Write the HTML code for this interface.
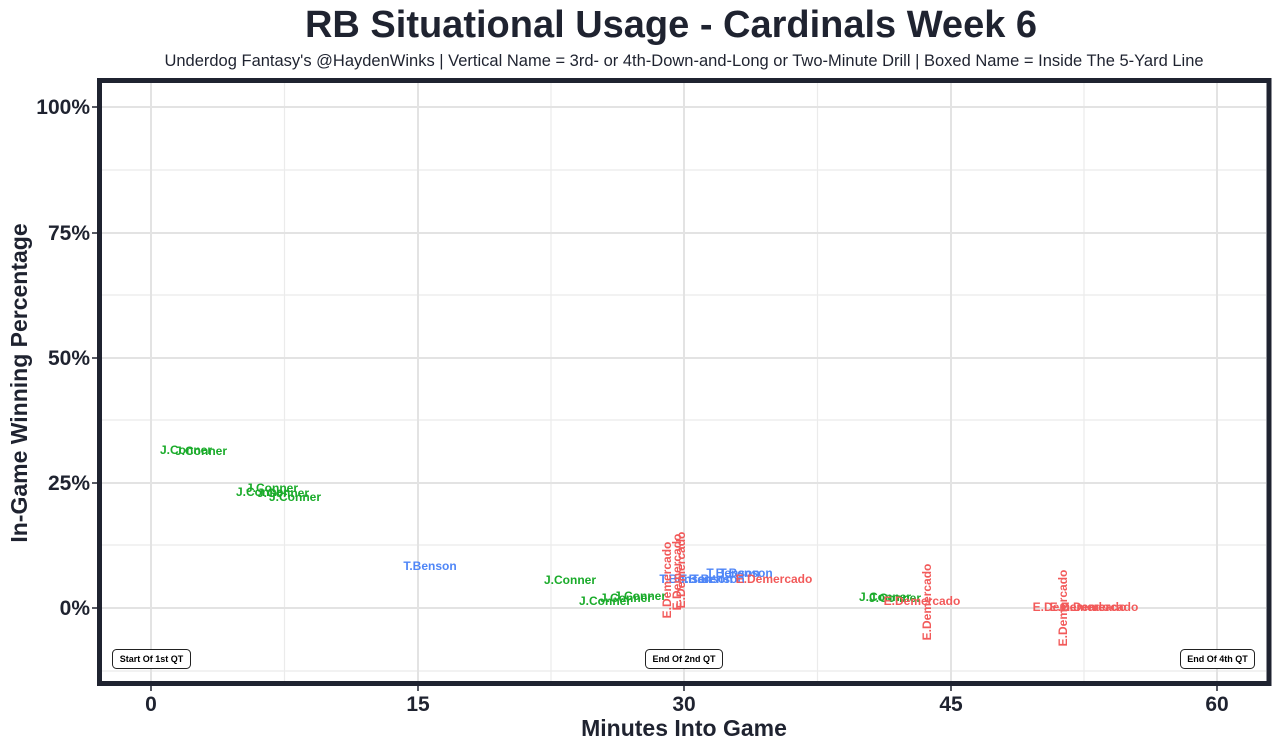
<!DOCTYPE html>
<html><head><meta charset="utf-8"><style>
html,body{margin:0;padding:0;background:#fff;}
svg{display:block;font-family:"Liberation Sans",sans-serif;}
.g{fill:#1aab2a}.b{fill:#4f86f7}.r{fill:#f25a5a}
.lab{font-size:12px;font-weight:bold;text-anchor:middle;dominant-baseline:middle}
.tk{font-size:21px;font-weight:bold;fill:#1f2330}
.ann{font-size:9px;font-weight:bold;text-anchor:middle;dominant-baseline:middle;fill:#000}
</style></head><body>
<svg width="1280" height="749" viewBox="0 0 1280 749">
<rect width="1280" height="749" fill="#fff"/>
<text x="671" y="37" text-anchor="middle" font-size="38" font-weight="bold" fill="#1f2330">RB Situational Usage - Cardinals Week 6</text>
<text x="684" y="66" text-anchor="middle" font-size="16.5" fill="#1f2330">Underdog Fantasy's @HaydenWinks | Vertical Name = 3rd- or 4th-Down-and-Long or Two-Minute Drill | Boxed Name = Inside The 5-Yard Line</text>
<g stroke="#ebebeb" stroke-width="1.2">
<line x1="284.5" y1="83" x2="284.5" y2="681"/><line x1="551" y1="83" x2="551" y2="681"/><line x1="817.5" y1="83" x2="817.5" y2="681"/><line x1="1084" y1="83" x2="1084" y2="681"/>
<line x1="102" y1="671" x2="1266" y2="671"/><line x1="102" y1="545" x2="1266" y2="545"/><line x1="102" y1="420" x2="1266" y2="420"/><line x1="102" y1="295" x2="1266" y2="295"/><line x1="102" y1="170" x2="1266" y2="170"/>
</g>
<g stroke="#e3e3e3" stroke-width="2">
<line x1="151" y1="83" x2="151" y2="681"/><line x1="418" y1="83" x2="418" y2="681"/><line x1="684" y1="83" x2="684" y2="681"/><line x1="951" y1="83" x2="951" y2="681"/><line x1="1217" y1="83" x2="1217" y2="681"/>
<line x1="102" y1="608" x2="1266" y2="608"/><line x1="102" y1="483" x2="1266" y2="483"/><line x1="102" y1="358" x2="1266" y2="358"/><line x1="102" y1="233" x2="1266" y2="233"/><line x1="102" y1="107" x2="1266" y2="107"/>
</g>
<g class="lab">
<text class="g lab" x="186" y="451">J.Conner</text><text class="g lab" x="201" y="452">J.Conner</text>
<text class="g lab" x="272" y="489">J.Conner</text><text class="g lab" x="262" y="493">J.Conner</text><text class="g lab" x="283" y="494">J.Conner</text><text class="g lab" x="295" y="498">J.Conner</text>
<text class="g lab" x="570" y="581">J.Conner</text><text class="g lab" x="605" y="602">J.Conner</text><text class="g lab" x="626" y="599">J.Conner</text><text class="g lab" x="640" y="597">J.Conner</text>
<text class="g lab" x="885" y="598">J.Conner</text><text class="g lab" x="895" y="599">J.Conner</text>
<text class="b lab" x="430" y="567">T.Benson</text>
<text class="b lab" x="686" y="580">T.Benson</text><text class="b lab" x="706" y="580">T.Benson</text><text class="b lab" x="718" y="580">T.Benson</text><text class="b lab" x="733" y="574">T.Benson</text><text class="b lab" x="746" y="574">T.Benson</text>
<text class="r lab" x="774" y="580">E.Demercado</text><text class="r lab" x="922" y="602">E.Demercado</text>
<text class="r lab" x="1071" y="608">E.Demercado</text><text class="r lab" x="1088" y="608">E.Demercado</text><text class="r lab" x="1100" y="608">E.Demercado</text>
<text class="r lab" transform="translate(668,580) rotate(-90)">E.Demercado</text>
<text class="r lab" transform="translate(678,572) rotate(-90)">E.Demercado</text>
<text class="r lab" transform="translate(682,570) rotate(-90)">E.Demercado</text>
<text class="r lab" transform="translate(928,602) rotate(-90)">E.Demercado</text>
<text class="r lab" transform="translate(1064,608) rotate(-90)">E.Demercado</text>
</g>
<g fill="#fff" stroke="#222" stroke-width="1">
<rect x="112.5" y="649.5" width="78" height="19" rx="4"/>
<rect x="645.5" y="649.5" width="77" height="19" rx="4"/>
<rect x="1180.5" y="649.5" width="74" height="19" rx="4"/>
</g>
<text class="ann" x="151.5" y="659.5">Start Of 1st QT</text>
<text class="ann" x="684" y="659.5">End Of 2nd QT</text>
<text class="ann" x="1217.5" y="659.5">End Of 4th QT</text>
<rect x="99.5" y="80.5" width="1169.5" height="603" fill="none" stroke="#1f2330" stroke-width="5"/>
<g stroke="#1f2330" stroke-width="1.5">
<line x1="151" y1="686" x2="151" y2="691"/><line x1="418" y1="686" x2="418" y2="691"/><line x1="684" y1="686" x2="684" y2="691"/><line x1="951" y1="686" x2="951" y2="691"/><line x1="1217" y1="686" x2="1217" y2="691"/>
<line x1="92" y1="608" x2="97" y2="608"/><line x1="92" y1="483" x2="97" y2="483"/><line x1="92" y1="358" x2="97" y2="358"/><line x1="92" y1="233" x2="97" y2="233"/><line x1="92" y1="107" x2="97" y2="107"/>
</g>
<g class="tk" text-anchor="middle">
<text x="151" y="711">0</text><text x="418" y="711">15</text><text x="684" y="711">30</text><text x="951" y="711">45</text><text x="1217" y="711">60</text>
</g>
<g class="tk" text-anchor="end">
<text x="90" y="615">0%</text><text x="90" y="490">25%</text><text x="90" y="365">50%</text><text x="90" y="240">75%</text><text x="90" y="114">100%</text>
</g>
<text x="684" y="736" text-anchor="middle" font-size="23" font-weight="bold" fill="#1f2330">Minutes Into Game</text>
<text transform="translate(27,383) rotate(-90)" text-anchor="middle" font-size="23" font-weight="bold" fill="#1f2330">In-Game Winning Percentage</text>
</svg>
</body></html>
